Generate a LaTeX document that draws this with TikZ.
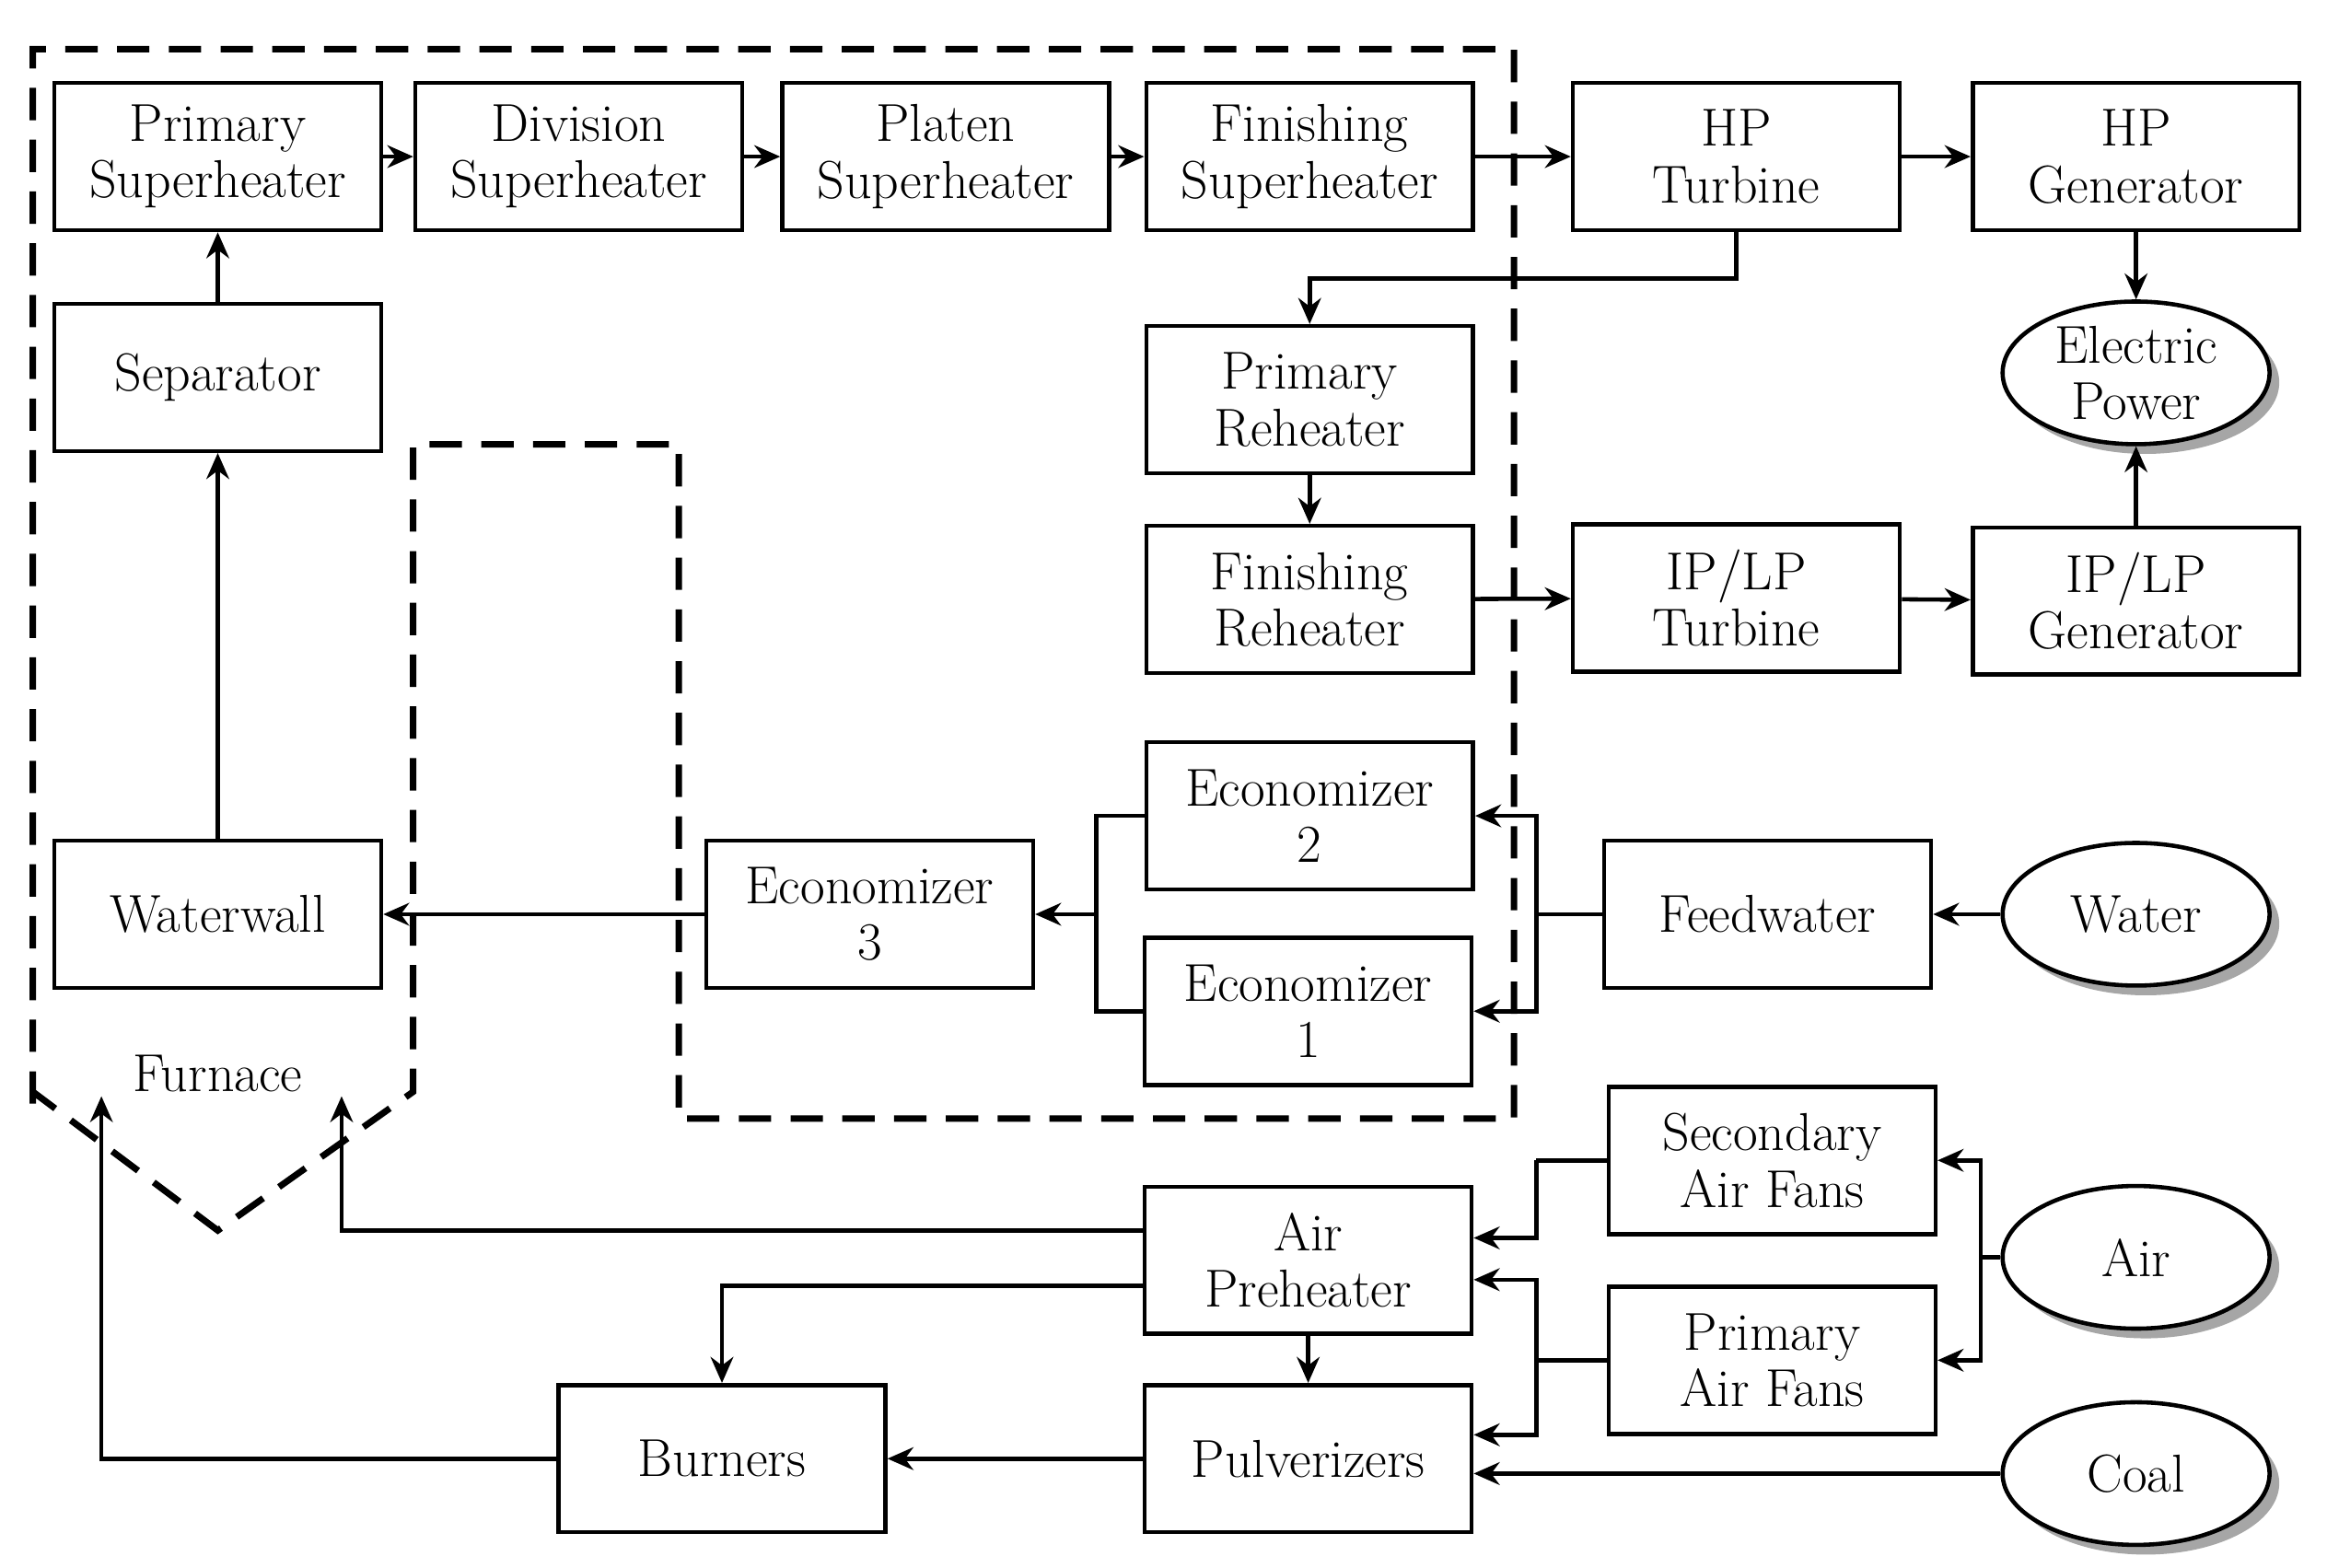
\documentclass[tikz,border=0pt]{standalone}
\usetikzlibrary{arrows.meta,calc,shapes.geometric,shadows}
\begin{document}
\begin{tikzpicture}[x=0.0162cm,y=-0.0162cm,
  every path/.style={line width=1.3pt},
  >={Stealth[length=8pt,width=7pt]},
  box/.style={draw,line width=1.3pt,minimum width=3.55cm,minimum height=1.6cm,align=center,inner sep=1pt,
    font=\fontsize{16.5}{17.5}\selectfont},
  ell/.style={draw,ellipse,line width=1.3pt,fill=white,minimum width=2.9cm,minimum height=1.55cm,align=center,inner sep=0pt,
    font=\fontsize{16.5}{17.5}\selectfont,drop shadow={shadow xshift=3pt,shadow yshift=-3pt,fill=gray!70,opacity=1}},
  dsh/.style={dashed,line width=2pt,dash pattern=on 10pt off 6pt}]
\useasboundingbox (0,0) rectangle (1560,1051);
% dashed enclosures
\draw[dsh] (22,740) -- (22,33) -- (1015,33) -- (1015,750) -- (455,750) -- (455,298) -- (277,298) -- (277,732) -- (146,825) -- (22,732);
% nodes
\node[box] (ps) at (146,105) {Primary\\Superheater};
\node[box] (ds) at (388,105) {Division\\Superheater};
\node[box] (pl) at (634,105) {Platen\\Superheater};
\node[box] (fs) at (878,105) {Finishing\\Superheater};
\node[box] (hpt) at (1164,105) {HP\\Turbine};
\node[box] (hpg) at (1432,105) {HP\\Generator};
\node[box] (sep) at (146,253) {Separator};
\node[box] (pr) at (878,268) {Primary\\Reheater};
\node[ell] (ep) at (1432,250) {Electric\\Power};
\node[box] (fr) at (878,402) {Finishing\\Reheater};
\node[box] (ipt) at (1164,401) {IP/LP\\Turbine};
\node[box] (ipg) at (1432,403) {IP/LP\\Generator};
\node[box] (e2) at (878,547) {Economizer\\2};
\node[box] (e3) at (583,613) {Economizer\\3};
\node[box] (ww) at (146,613) {Waterwall};
\node[box] (fw) at (1185,613) {Feedwater};
\node[ell] (wat) at (1432,613) {Water};
\node[box] (e1) at (877,678) {Economizer\\1};
\node[font=\fontsize{16.5}{17.5}\selectfont] (fur) at (146,720) {Furnace};
\node[box] (saf) at (1188,778) {Secondary\\Air Fans};
\node[box] (aph) at (877,845) {Air\\Preheater};
\node[ell] (air) at (1432,843) {Air};
\node[box] (paf) at (1188,912) {Primary\\Air Fans};
\node[box] (bur) at (484,978) {Burners};
\node[box] (pul) at (877,978) {Pulverizers};
\node[ell] (coal) at (1432,988) {Coal};
% junctions
\coordinate (jF) at (1030,613);
\coordinate (jE) at (735,613);
\coordinate (jA) at (1328,843);
\coordinate (jS) at (1030,778);
\coordinate (jP) at (1030,912);
\coordinate (fz1) at (229,735);
\coordinate (fz2) at (68,735);
% connectors
\draw[->] (ps) -- (ds);
\draw[->] (ds) -- (pl);
\draw[->] (pl) -- (fs);
\draw[->] (fs) -- (hpt);
\draw[->] (hpt) -- (hpg);
\draw[->] (sep) -- (ps);
\draw[->] (ww) -- (sep);
\draw[->] (hpt.south) -- ++(0,31) -| (pr.north);
\draw[->] (pr) -- (fr);
\draw[->] (fr) -- (ipt);
\draw[->] (ipt) -- (ipg);
\draw[->] (hpg) -- (ep);
\draw[->] (ipg) -- (ep);
\draw[->] (wat) -- (fw);
\draw (fw.west) -- (jF);
\draw[->] (jF) |- (e2.east);
\draw[->] (jF) |- (e1.east);
\draw (e2.west) -| (jE) |- (e1.west);
\draw[->] (jE) -- (e3.east);
\draw[->] (e3) -- (ww);
\draw (air.west) -- (jA);
\draw[->] (jA) |- (saf.east);
\draw[->] (jA) |- (paf.east);
\draw (saf.west) -- (jS);
\draw[->] (jS) |- ($(aph.east)+(0,-15)$);
\draw (paf.west) -- (jP);
\draw[->] (jP) |- ($(aph.east)+(0,13)$);
\draw[->] (jP) |- ($(pul.east)+(0,-16)$);
\draw[->] (coal.west) -- (coal.west -| pul.east);
\draw[->] ($(aph.west)+(0,-20)$) -| (fz1);
\draw[->] ($(aph.west)+(0,17)$) -| (bur.north);
\draw[->] (aph) -- (pul);
\draw[->] (pul) -- (bur);
\draw[->] (bur.west) -| (fz2);
\end{tikzpicture}
\end{document}
